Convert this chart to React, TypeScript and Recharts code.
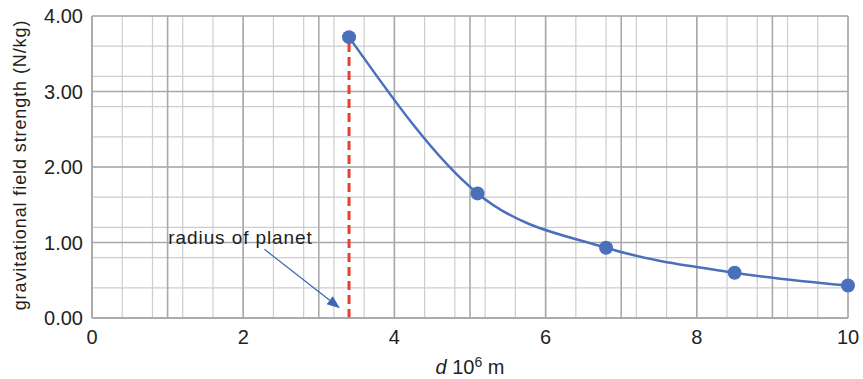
import React from "react";
import { ComposedChart, Line, XAxis, YAxis, CartesianGrid, ReferenceLine } from "recharts";

// distance from planet centre (10^6 m) and field strength (N/kg)
const distances = [3.4, 5.1, 6.8, 8.5, 10];
const strengths = [3.72, 1.65, 0.93, 0.6, 0.43];

const xTicks = [0, 2, 4, 6, 8, 10];
const yTicks = [0, 1, 2, 3, 4];

const planetRadius = 3.4;
const surfaceStrength = 3.72;

// arrow for the "radius of planet" note
const arrowFrom = { x: 2.28, y: 0.91 };
const arrowTo = { x: 3.28, y: 0.13 };

const data = distances.map((d, i) => ({ d, g: strengths[i] }));

const minorX: number[] = [];
for (let i = 0; i <= 50; i++) minorX.push(i / 5);
const minorY: number[] = [];
for (let i = 0; i <= 20; i++) minorY.push(i / 5);
const majorX = [0, 1, 2, 3, 4, 5, 6, 7, 8, 9, 10];
const majorY = [0, 1, 2, 3, 4];

const BLUE = "#4a70bb";
const TEXT = "#231f20";
const FONT = "'Liberation Sans', Arial, sans-serif";

function Arrow(props: any) {
  const { x1, y1, x2, y2 } = props;
  const ang = Math.atan2(y2 - y1, x2 - x1);
  const len = 13;
  const w = 5;
  const bx = x2 - len * Math.cos(ang);
  const by = y2 - len * Math.sin(ang);
  const px = -Math.sin(ang) * w;
  const py = Math.cos(ang) * w;
  return (
    <g>
      <text x={x1 - 96} y={y1 - 5} fontSize={19} fill={TEXT} fontFamily={FONT} letterSpacing={0.9}>
        radius of planet
      </text>
      <line x1={x1} y1={y1} x2={bx} y2={by} stroke="#3d66b3" strokeWidth={1.2} />
      <path d={`M${x2},${y2} L${bx + px},${by + py} L${bx - px},${by - py} Z`} fill="#3d66b3" />
    </g>
  );
}

export default function App() {
  return (
    <div style={{ position: "absolute", left: 0, top: 0, width: 863, height: 379, background: "#fff", fontFamily: FONT }}>
      <ComposedChart width={863} height={379} data={data} margin={{ top: 16, right: 15, bottom: 0, left: 0 }}>
        <CartesianGrid stroke="#cdcdcf" strokeWidth={1.2} verticalValues={minorX} horizontalValues={minorY} />
        <CartesianGrid stroke="#a9a9ac" strokeWidth={1.6} verticalValues={majorX} horizontalValues={majorY} />
        <XAxis
          type="number"
          dataKey="d"
          domain={[0, 10]}
          ticks={xTicks}
          tickLine={false}
          axisLine={{ stroke: "#a9a9ac", strokeWidth: 1.6 }}
          tick={{ fill: TEXT, fontSize: 20, fontFamily: FONT }}
          tickMargin={6}
          height={61}
        />
        <YAxis
          type="number"
          domain={[0, 4]}
          ticks={yTicks}
          tickFormatter={(v: number) => v.toFixed(2)}
          tickLine={false}
          axisLine={{ stroke: "#a9a9ac", strokeWidth: 1.6 }}
          tick={{ fill: TEXT, fontSize: 20, fontFamily: FONT }}
          tickMargin={3}
          width={92}
        />
        <Line
          type="monotone"
          dataKey="g"
          stroke={BLUE}
          strokeWidth={2.5}
          dot={{ r: 7, fill: BLUE, stroke: "none" }}
          isAnimationActive={false}
        />
        <ReferenceLine
          segment={[
            { x: planetRadius, y: 0 },
            { x: planetRadius, y: surfaceStrength },
          ]}
          stroke="#e8402f"
          strokeWidth={3}
          strokeDasharray="9 5"
        />
        <ReferenceLine
          segment={[arrowFrom, arrowTo]}
          shape={(p: any) => <Arrow {...p} />}
        />
      </ComposedChart>
      <div
        style={{
          position: "absolute",
          left: 20,
          top: 165,
          transform: "translate(-50%, -50%) rotate(-90deg)",
          whiteSpace: "nowrap",
          fontSize: 18,
          letterSpacing: 0.9,
          color: TEXT,
        }}
      >
        gravitational field strength (N/kg)
      </div>
      <div
        style={{
          position: "absolute",
          left: 470,
          top: 355,
          transform: "translateX(-50%)",
          whiteSpace: "nowrap",
          fontSize: 20,
          color: TEXT,
          lineHeight: "24px",
        }}
      >
        <i>d</i> 10<sup style={{ fontSize: 14, verticalAlign: "7px", lineHeight: 0 }}>6</sup> m
      </div>
    </div>
  );
}
